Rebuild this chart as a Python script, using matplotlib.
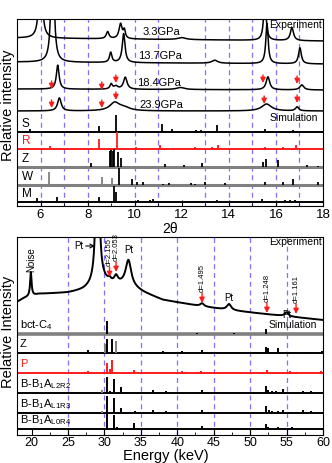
import numpy as np
import matplotlib
matplotlib.use('Agg')
import matplotlib.pyplot as plt
from matplotlib.ticker import MultipleLocator

plt.rcParams['font.family'] = ['Liberation Sans', 'DejaVu Sans']
plt.rcParams['mathtext.fontset'] = 'custom'
plt.rcParams['mathtext.rm'] = 'Liberation Sans'
plt.rcParams['mathtext.it'] = 'Liberation Sans'

# =========================================================
# DATA - top panel (2theta)
# =========================================================
# experiment traces: peaks as (2theta, height, half width), baseline at left/right
pressures = ['3.3GPa', '13.7GPa', '18.4GPa', '23.9GPa']
exp_base = [(168, 165), (144, 142), (117, 116), (95, 95)]
exp_peaks = [
    [(6.0, 90, 0.07), (8.85, 7, 0.07), (9.4, 15, 0.08), (9.56, 8, 0.05), (12.0, 2, 0.2),
     (15.53, 45, 0.06), (16.68, 13, 0.08)],
    [(6.51, 160, 0.06), (8.98, 10, 0.06), (9.53, 29, 0.07), (13.4, 3, 0.15),
     (15.62, 40, 0.06), (17.02, 16, 0.07)],
    [(6.73, 24, 0.07), (9.0, 5, 0.06), (9.2, 3, 0.1), (9.6, 12, 0.09), (11.95, 2, 0.2),
     (15.66, 13, 0.09), (17.1, 5, 0.1)],
    [(6.8, 13, 0.09), (9.15, 8, 0.25), (9.55, 3, 0.3), (15.6, 7, 0.25), (16.9, 4, 0.08)],
]
label_x = [10.34, 10.13, 10.09, 10.2]
# red arrows (2theta, tip height)
arrows_184 = [(6.47, 117), (8.6, 116), (9.2, 123), (15.45, 123), (16.9, 122)]
arrows_239 = [(6.47, 98), (8.6, 98), (9.2, 106), (15.5, 102), (16.9, 103)]

top_rows = ['S', 'R', 'Z', 'W', 'M']
top_row_base = [74, 57, 39, 21, 4]
# sticks (2theta, height, colour)
sticks_S = [(5.57, 3, 'k'), (8.5, 6, 'k'), (9.19, 17, 'k'), (9.53, 1, 'k'), (9.9, 1, 'k'),
            (11.15, 8, 'k'), (11.57, 3, 'k'), (12.6, 2, 'k'), (12.8, 2, 'k'), (13.5, 7, 'k'),
            (14.68, 1, 'k'), (15.53, 3, 'k'), (16.72, 2, 'k'), (16.85, 1, 'k')]
sticks_R = [(6.42, 3, 'r'), (8.5, 10, 'r'), (9.23, 17, 'r'), (10.05, 2, 'r'), (11.06, 4, 'r'),
            (12.55, 2, 'r'), (13.3, 2, 'r'), (13.55, 4, 'r'), (15.53, 2, 'r'), (16.3, 2, 'r'),
            (16.85, 4, 'r')]
sticks_Z = [(8.13, 4, 'k'), (8.94, 16, 'k'), (9.0, 17, 'k'), (9.06, 16, 'k'), (9.1, 18, 'k'),
            (9.28, 15, 'k'), (9.4, 9, 'k'), (11.28, 3, 'k'), (12.08, 2, 'k'), (12.85, 4, 'k'),
            (15.45, 5, 'k'), (15.57, 8, 'k'), (16.08, 7, 'k'), (17.3, 2, 'k'), (17.77, 1, 'k')]
sticks_W = [(6.38, 13, 'gray'), (8.6, 8, 'gray'), (9.02, 7, 'gray'), (9.32, 17, 'k'), (9.87, 6, 'k'),
            (10.08, 3, 'k'), (10.34, 3, 'k'), (11.2, 1, 'k'), (11.45, 2, 'k'), (12.4, 2, 'k'),
            (12.55, 1, 'k'), (12.98, 3, 'k'), (13.83, 2, 'k'), (15.53, 3, 'k'), (16.3, 3, 'k'),
            (16.72, 6, 'k'), (17.8, 3, 'k')]
sticks_M = [(5.87, 4, 'k'), (6.68, 5, 'k'), (8.47, 5, 'k'), (9.1, 16, 'k'), (9.19, 10, 'k'),
            (9.53, 1, 'k'), (10.13, 2, 'k'), (10.65, 2, 'k'), (10.77, 3, 'k'), (12.55, 1, 'k'),
            (12.9, 1, 'k'), (13.5, 2, 'k'), (15.4, 3, 'k'), (16.4, 2, 'k'), (16.6, 2, 'k'),
            (16.8, 2, 'k')]
top_sticks = [sticks_S, sticks_R, sticks_Z, sticks_W, sticks_M]
top_line_col = ['k', 'r', 'gray', 'gray', 'k']
top_dash = [6, 7, 8, 10, 11, 13, 14, 15, 16, 17]

# =========================================================
# DATA - bottom panel (energy)
# =========================================================
ed_base_x = [18, 19, 21, 25, 27, 30, 33, 35.5, 38, 43, 47, 52, 56, 60]
ed_base_y = [133, 137, 141, 142, 144, 149, 150, 142, 135, 129, 125, 121, 118, 115]
ed_peaks = [(19.9, 24, 0.12), (29.05, 260, 0.18), (29.2, 8, 1.0), (30.7, 3, 0.25),
            (31.6, 7, 0.3), (33.3, 25, 0.45), (43.4, 3, 0.3), (47.1, 6, 0.35), (55.0, 4, 0.3)]
d_marks = [('d=2.155', 30.7, 158), ('d=2.053', 31.6, 163), ('d=1.495', 43.4, 132),
           ('d=1.248', 52.3, 122), ('d=1.161', 56.3, 121)]

bot_rows = ['bct-C$_4$', 'Z', 'P', 'B-B$_1$A$_{\\rm L2R2}$', 'B-B$_1$A$_{\\rm L1R3}$', 'B-B$_1$A$_{\\rm L0R4}$']
bot_row_base = [101, 82, 62, 42, 22, 6]
sticks_bct = [(30.4, 13, 'k'), (42.7, 1, 'k'), (47.8, 1, 'k'), (52.2, 5, 'k')]
sticks_Zb = [(27.7, 3, 'k'), (30.1, 9, 'gray'), (30.4, 14, 'k'), (31.0, 14, 'k'), (31.65, 12, 'gray'),
             (38.1, 2, 'k'), (40.7, 2, 'k'), (43.4, 3, 'k'), (51.6, 1, 'k'), (52.2, 6, 'k'),
             (52.5, 5, 'k'), (53.8, 5, 'k'), (57.9, 1, 'k'), (59.8, 2, 'k')]
sticks_P = [(27.7, 2, 'r'), (30.4, 10, 'r'), (30.7, 4, 'r'), (31.1, 13, 'r'), (34.0, 3, 'r'),
            (40.7, 2, 'r'), (43.3, 2, 'r'), (52.3, 3, 'r'), (53.2, 1, 'r'), (55.5, 2, 'r'),
            (59.7, 2, 'r')]
sticks_L2R2 = [(25.5, 1, 'k'), (29.6, 3, 'gray'), (30.4, 16, 'k'), (30.8, 2, 'k'), (31.3, 14, 'k'),
               (32.3, 6, 'k'), (36.6, 3, 'k'), (38.5, 2, 'k'), (43.4, 3, 'k'), (52.2, 7, 'k'),
               (52.5, 3, 'k'), (53.0, 2, 'k'), (53.5, 2, 'k'), (54.5, 4, 'k'), (57.2, 2, 'k'),
               (58.4, 2, 'k')]
sticks_L1R3 = [(19.0, 1, 'k'), (25.8, 1, 'k'), (29.7, 2, 'gray'), (30.4, 17, 'k'), (31.3, 15, 'k'),
               (32.3, 5, 'k'), (34.2, 2, 'k'), (36.6, 3, 'k'), (38.5, 2, 'k'), (43.4, 3, 'k'),
               (52.2, 7, 'k'), (52.6, 3, 'k'), (53.0, 2, 'k'), (53.8, 2, 'k'), (54.5, 3, 'k'),
               (57.2, 3, 'k'), (58.4, 2, 'k')]
sticks_L0R4 = [(19.0, 1, 'k'), (25.8, 1, 'k'), (30.4, 15, 'k'), (31.3, 14, 'k'), (31.7, 2, 'k'),
               (34.1, 6, 'k'), (43.4, 3, 'k'), (52.2, 5, 'k'), (52.5, 2, 'k'), (53.8, 2, 'k'),
               (55.7, 2, 'k'), (58.4, 1, 'k'), (59.2, 1, 'k')]
bot_sticks = [sticks_bct, sticks_Zb, sticks_P, sticks_L2R2, sticks_L1R3, sticks_L0R4]
bot_line_col = ['gray', 'k', 'r', 'k', 'k', 'k']
bot_dash = [25, 30, 35, 40, 45, 50, 55]

RED = '#ff1a1a'
DASH = '#8070ff'


def lorentz_sum(x, peaks):
    y = np.zeros_like(x)
    for c, h, w in peaks:
        y += h / (1 + ((x - c) / w) ** 2)
    return y


def col(c):
    return {'r': RED, 'k': 'black', 'gray': '#808080'}[c]


def red_arrow(ax, x, tip, length):
    ax.annotate('', xy=(x, tip), xytext=(x, tip + length),
                arrowprops=dict(arrowstyle='-|>,head_length=0.5,head_width=0.25',
                                color=RED, lw=1.0, shrinkA=0, shrinkB=0, mutation_scale=6))


fig = plt.figure(figsize=(3.32, 4.63), dpi=100)
ax1 = fig.add_axes([17 / 332, 1 - 206 / 463, 306 / 332, 187 / 463])
ax2 = fig.add_axes([17 / 332, 1 - 435 / 463, 306 / 332, 198 / 463])

# ---------------- top panel ----------------
x = np.linspace(5, 18, 2000)
for (b0, b1), pk in zip(exp_base, exp_peaks):
    y = np.interp(x, [5, 18], [b0, b1]) + lorentz_sum(x, pk)
    ax1.plot(x, y, color='black', lw=1.1, zorder=3)
for lx, (b0, b1), lab in zip(label_x, exp_base, pressures):
    ax1.text(lx, b0 + 6, lab, fontsize=8, ha='left', va='center', zorder=5)

for xa, ya in arrows_184 + arrows_239:
    red_arrow(ax1, xa, ya, 8)

for base, st, lc, lab in zip(top_row_base, top_sticks, top_line_col, top_rows):
    lw = 2.2 if lc == 'gray' else 1.4
    ax1.axhline(base, color=col(lc), lw=lw, zorder=2)
    for p, h, c in st:
        ax1.vlines(p, base, base + h, color=col(c), lw=1.3, zorder=3)
    ax1.text(5.2, base + 8, lab, fontsize=8.5, ha='left', va='center',
             color=RED if lab == 'R' else 'black')

for d in top_dash:
    ax1.axvline(d, color=DASH, lw=0.9, ls=(0, (4, 3)), zorder=1)

ax1.text(17.96, 181, 'Experiment', fontsize=7.5, ha='right', va='center')
ax1.text(17.8, 88, 'Simulation', fontsize=7.5, ha='right', va='center')

ax1.set_xlim(5, 18)
ax1.set_ylim(0, 187)
ax1.set_yticks([])
ax1.xaxis.set_major_locator(MultipleLocator(2))
ax1.xaxis.set_minor_locator(MultipleLocator(1))
ax1.tick_params(axis='x', which='both', direction='in', labelsize=9.5, pad=2)
ax1.tick_params(axis='x', which='major', length=4)
ax1.tick_params(axis='x', which='minor', length=2.5)
ax1.set_xlabel('2θ', fontsize=10, labelpad=1)

# ---------------- bottom panel ----------------
e = np.linspace(18, 60, 3000)
ye = np.interp(e, ed_base_x, ed_base_y) + lorentz_sum(e, ed_peaks)
ax2.plot(e, ye, color='black', lw=1.4, zorder=3)

for lab, xe, tip in d_marks:
    red_arrow(ax2, xe, tip, 10)
    ax2.text(xe, tip + 11, lab, rotation=90, fontsize=5.5, ha='center', va='bottom')

ax2.text(19.9, 175, 'Noise', rotation=90, fontsize=7, ha='center', va='center')
ax2.annotate('Pt', xy=(28.7, 189), xytext=(25.8, 189), fontsize=7, va='center', ha='left',
             arrowprops=dict(arrowstyle='->', color='black', lw=0.8, shrinkA=0, shrinkB=0))
ax2.text(33.3, 185, 'Pt', fontsize=7, ha='center', va='center')
ax2.text(47.1, 137, 'Pt', fontsize=7, ha='center', va='center')
ax2.text(55.0, 120, 'Pt', fontsize=7, ha='center', va='center')
ax2.text(59.8, 193, 'Experiment', fontsize=7.5, ha='right', va='center')
ax2.text(59.2, 110, 'Simulation', fontsize=7.5, ha='right', va='center')

for base, st, lc, lab in zip(bot_row_base, bot_sticks, bot_line_col, bot_rows):
    lw = 2.6 if lc == 'gray' else 1.4
    ax2.axhline(base, color=col(lc), lw=lw, zorder=2)
    for p, h, c in st:
        ax2.vlines(p, base, base + h, color=col(c), lw=1.4, zorder=3)
    ax2.text(18.4, base + 9, lab, fontsize=8, ha='left', va='center',
             color=RED if lab == 'P' else 'black')

for d in bot_dash:
    ax2.axvline(d, color=DASH, lw=0.9, ls=(0, (4, 3)), zorder=1)

ax2.set_xlim(18, 60)
ax2.set_ylim(0, 198)
ax2.set_yticks([])
ax2.xaxis.set_major_locator(MultipleLocator(5))
ax2.xaxis.set_minor_locator(MultipleLocator(2.5))
ax2.tick_params(axis='x', which='both', direction='in', labelsize=9, pad=1.5)
ax2.tick_params(axis='x', which='major', length=4)
ax2.tick_params(axis='x', which='minor', length=2.5)

fig.text(0.5, 1 - 456 / 463, 'Energy (keV)', fontsize=10.5, ha='center', va='center')
fig.text(8 / 332, 1 - 105 / 463, 'Relative intensity', rotation=90, fontsize=10.5,
         ha='center', va='center')
fig.text(8 / 332, 1 - 332 / 463, 'Relative Intensity', rotation=90, fontsize=10.5,
         ha='center', va='center')

fig.savefig('out.png', dpi=100)
